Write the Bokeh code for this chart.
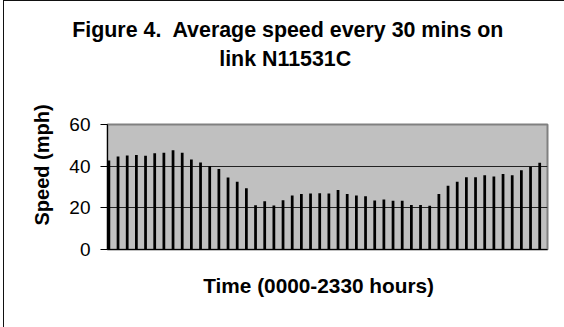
from bokeh.plotting import figure
from bokeh.models import Range1d, ColumnDataSource, FixedTicker, Title, InlineStyleSheet
from bokeh.embed import file_html
from bokeh.resources import INLINE

# Half-hour slots 0000 .. 2330
times = [f"{h:02d}{m:02d}" for h in range(24) for m in (0, 30)]
speeds = [42.7, 44.6, 45.1, 45.4, 45.0, 46.2, 46.4, 47.7, 46.4, 43.2,
          41.8, 40.0, 38.6, 34.6, 32.5, 29.4, 21.3, 23.2, 21.1, 23.7,
          25.9, 26.6, 26.9, 27.0, 26.9, 28.6, 26.7, 25.9, 25.6, 23.5,
          24.0, 23.4, 23.4, 21.4, 21.4, 21.0, 26.6, 30.6, 32.5, 34.7,
          34.7, 35.7, 35.0, 36.3, 35.7, 38.1, 39.7, 41.6]
y_ticks = [0, 20, 40, 60]
grid_ticks = [20, 40]

title_line1 = "Figure 4.\u00a0 Average speed every 30 mins on"
title_line2 = "link N11531C"
x_title = "Time (0000-2330 hours)"
y_title = "Speed (mph)"

FONT = "Liberation Sans"

src = ColumnDataSource(dict(x=list(range(len(times))), time=times, speed=speeds))

frame_css = InlineStyleSheet(css="""
:host { position: relative; }
:host::after {
  content: "";
  position: absolute;
  left: 3px; top: 0px; width: 600px; height: 400px;
  border-left: 1.5px solid #111;
  border-top: 1.5px solid #111;
  pointer-events: none;
  z-index: 100;
}
""")

p = figure(width=564, height=327, output_backend="svg", toolbar_location=None,
           x_range=Range1d(-0.15, 47.85), y_range=Range1d(0, 60),
           min_border_left=107, min_border_right=17,
           min_border_top=124, min_border_bottom=78,
           stylesheets=[frame_css])

p.background_fill_color = "#c0c0c0"
p.border_fill_color = "white"
p.outline_line_color = "#808080"
p.outline_line_width = 2

p.vbar(x="x", top="speed", width=0.3, source=src,
       fill_color="black", line_color=None)

p.xgrid.visible = False
p.ygrid.ticker = FixedTicker(ticks=grid_ticks)
p.ygrid.grid_line_color = "#222222"
p.ygrid.grid_line_width = 1

xa = p.xaxis[0]
xa.ticker = FixedTicker(ticks=[])
xa.major_tick_line_color = None
xa.minor_tick_line_color = None
xa.axis_line_color = "black"
xa.axis_line_width = 1

ya = p.yaxis[0]
ya.ticker = FixedTicker(ticks=y_ticks)
ya.major_label_text_font = FONT
ya.major_label_text_font_size = "19px"
ya.major_label_text_color = "black"
ya.major_tick_out = 7
ya.major_tick_in = 0
ya.major_tick_line_color = "black"
ya.minor_tick_line_color = None
ya.axis_line_color = "black"
ya.major_label_standoff = 10

def ttl(text, size, standoff, offset, valign="bottom"):
    return Title(text=text, align="left", offset=offset, standoff=standoff,
                 vertical_align=valign,
                 text_font=FONT, text_font_style="bold", text_font_size=size,
                 text_color="black")

# above panels: first added sits next to the frame
p.add_layout(Title(text=" ", text_font_size="1px", standoff=50), "above")
p.add_layout(ttl(title_line2, "21.4px", 2, 111.7), "above")
p.add_layout(ttl(title_line1, "21.4px", 4, -35.3), "above")

p.add_layout(ttl(x_title, "20.8px", 44, 95.7), "below")
p.add_layout(ttl(y_title, "20px", 28, 24), "left")

open("out.html", "w").write(file_html(p, INLINE))
